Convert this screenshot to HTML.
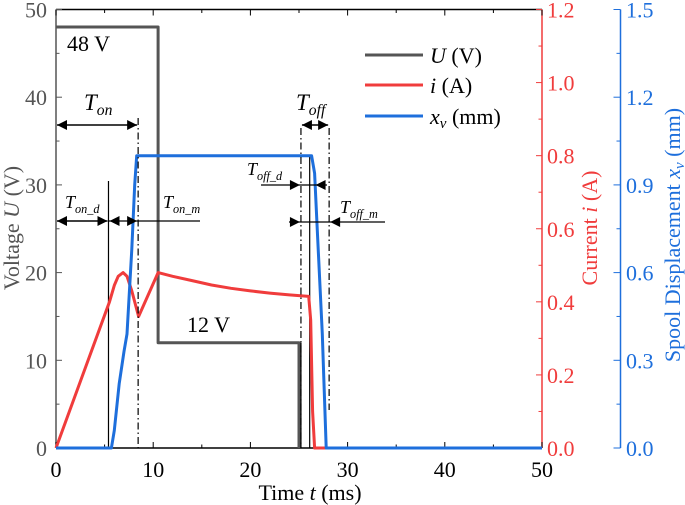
<!DOCTYPE html>
<html><head><meta charset="utf-8"><style>
html,body{margin:0;padding:0;background:#fff;}
svg{display:block;font-family:"Liberation Serif",serif;}
</style></head><body>
<svg id="chart" width="685" height="505" viewBox="0 0 685 505" xmlns="http://www.w3.org/2000/svg"></svg>
<script>
const xTicks=[0,10,20,30,40,50];
const uTicks=[0,10,20,30,40,50];
const iTicks=[0.0,0.2,0.4,0.6,0.8,1.0,1.2];
const xvTicks=[0.0,0.3,0.6,0.9,1.2,1.5];
const uTime=[0,10.5,10.5,25,25];
const uVals=[48,48,12,12,0];
const iTime=[0,5.5,6.0,6.4,6.9,7.3,7.8,8.5,10.5,12,14,16,18,20,22,24,26,26.2,26.4,26.6,50];
const iVals=[0,0.40,0.445,0.47,0.48,0.47,0.43,0.36,0.48,0.47,0.458,0.446,0.437,0.43,0.424,0.419,0.415,0.35,0.1,0,0];
const xvTime=[0,5.7,6.0,6.5,7.0,7.3,7.8,8.1,8.3,26.3,26.6,26.9,27.4,27.8,50];
const xvVals=[0,0,0.06,0.22,0.33,0.39,0.68,0.9,1.0,1.0,0.94,0.73,0.39,0,0];

const L=56,R=542,T=9.5,B=448;
const X=t=>L+(t/50)*(R-L);
const YU=v=>B-(v/50)*(B-T);
const YI=v=>B-(v/1.2)*(B-T);
const YX=v=>B-(v/1.5)*(B-T);
const svg=document.getElementById('chart');
const NS='http://www.w3.org/2000/svg';
function el(tag,attrs,text){const e=document.createElementNS(NS,tag);for(const k in attrs)e.setAttribute(k,attrs[k]);if(text!==undefined)e.innerHTML=text;svg.appendChild(e);return e;}
function line(x1,y1,x2,y2,st,w,dash){return el('line',{x1,y1,x2,y2,stroke:st,'stroke-width':w||1,'stroke-dasharray':dash||'none'});}
const gray='#555',red='#f03c3c',blue='#1e6fdc';

let e=line(L,T,R,T,'#000',1.5);
e=line(L,T,L,B,gray,1.5);
e=line(L,B,R,B,'#000',1.5);
e=line(R,T,R,B,red,1.5);
e=line(620.5,T,620.5,B,blue,1.5);

for(let t=0;t<=50;t+=5){const maj=t%10===0;const x=X(t);line(x,B,x,B-(maj?6:3.5),'#000',1);line(x,T,x,T+(maj?6:3.5),'#000',1);}
xTicks.forEach(t=>{e=el('text',{x:X(t),y:477,'font-size':22,'text-anchor':'middle',fill:'#000'},t);});
for(let v=0;v<=50;v+=5){line(L,YU(v),L+(v%10===0?6:3.5),YU(v),gray,1);}
uTicks.forEach(v=>{e=el('text',{x:47,y:YU(v)+8,'font-size':22,'text-anchor':'end',fill:gray},v);});
for(let k=0;k<=12;k++){const v=k/10;line(R,YI(v),R-(k%2===0?6:3.5),YI(v),red,1);}
iTicks.forEach(v=>{e=el('text',{x:547,y:YI(v)+8,'font-size':22,fill:red},v.toFixed(1));});
for(let k=0;k<=10;k++){const v=k*0.15;line(620.5,YX(v),620.5-(k%2===0?7:4),YX(v),blue,1);}
xvTicks.forEach(v=>{e=el('text',{x:626,y:YX(v)+8,'font-size':22,fill:blue},v.toFixed(1));});

e=el('text',{x:310,y:500,'font-size':22,'text-anchor':'middle',fill:'#000'},'Time <tspan font-style="italic">t</tspan> (ms)');
e=el('text',{x:0,y:0,'font-size':22,'text-anchor':'middle',fill:gray,transform:'translate(19,228) rotate(-90)'},'Voltage <tspan font-style="italic">U</tspan> (V)');
e=el('text',{x:0,y:0,'font-size':22,'text-anchor':'middle',fill:red,transform:'translate(597,228) rotate(-90)'},'Current <tspan font-style="italic">i</tspan> (A)');
e=el('text',{x:0,y:0,'font-size':22,'text-anchor':'middle',fill:blue,transform:'translate(680,235) rotate(-90)'},'Spool Displacement <tspan font-style="italic">x</tspan><tspan font-style="italic" font-size="15" dy="4">v</tspan><tspan dy="-4"> (mm)</tspan>');

function poly(ts,vs,Y,col,name){const p=ts.map((t,i)=>X(t).toFixed(1)+','+Y(vs[i]).toFixed(1)).join(' ');const e=el('polyline',{points:p,fill:'none',stroke:col,'stroke-width':3,'stroke-linejoin':'round'});}
poly(uTime,uVals,YU,gray,'voltage-line');
line(X(25.2),YU(12),X(25.2),B,'#000',1.2);
line(X(26.1),YU(33.3),X(26.1),B,'#000',1.2);
line(X(5.4),181,X(5.4),B,'#000',1.2);
poly(iTime,iVals,YI,red,'current-line');
poly(xvTime,xvVals,YX,blue,'displacement-line');

const dd='7,3,1.5,3';
line(X(8.45),118,X(8.45),B,'#000',1.2,dd);
line(X(25.2),128,X(25.2),B,'#000',1.2,dd);
line(X(28.1),128,X(28.1),410,'#000',1.2,dd);
function arrowHead(x,y,dir){const d=dir>0?-10:10;el('polygon',{points:`${x},${y} ${x+d},${y-5} ${x+d},${y+5}`,fill:'#000'});}
function dbl(x1,x2,y,name){e=line(x1,y,x2,y,'#000',1.5);arrowHead(x1,y,-1);arrowHead(x2,y,1);}
dbl(L+1,X(8.45)-1,125,'ton-arrow');
dbl(X(25.2)+1,X(28.1)-1,125,'toff-arrow');
dbl(L+1,X(5.4)-1,221,'ton-d-arrow');
line(X(5.4),221,200,221,'#000',1.2);
arrowHead(X(5.4)+1,221,-1);arrowHead(X(8.45)-1,221,1);
line(261,185,327,185,'#000',1.2);arrowHead(X(25.2)-1,185,1);arrowHead(X(26.6)+1,185,-1);
line(289,222,385,222,'#000',1.2);arrowHead(X(25.2)-1,222,1);arrowHead(X(28.1)+1,222,-1);

function lab(x,y,main,sub,fs,name){e=el('text',{x,y,'font-size':fs,'font-style':'italic',fill:'#000'},main+`<tspan font-size="${fs*0.68}" dy="5">${sub}</tspan>`);}
lab(84,110,'T','on',23,'ton-label');
lab(296,110,'T','off',23,'toff-label');
lab(65,208,'T','on_d',18,'ton-d-label');
lab(163,208,'T','on_m',18,'ton-m-label');
lab(247,175,'T','off_d',18,'toff-d-label');
lab(340,213,'T','off_m',18,'toff-m-label');
e=el('text',{x:67,y:51,'font-size':22,fill:'#000'},'48 V');
e=el('text',{x:187,y:332,'font-size':22,fill:'#000'},'12 V');

const leg=[[gray,'<tspan font-style="italic">U</tspan> (V)',55,'legend-entry-voltage'],[red,'<tspan font-style="italic">i</tspan> (A)',85,'legend-entry-current'],[blue,'<tspan font-style="italic">x</tspan><tspan font-style="italic" font-size="15" dy="4">v</tspan><tspan dy="-4"> (mm)</tspan>',116,'legend-entry-displacement']];
leg.forEach(l=>{line(365,l[2],423,l[2],l[0],3);e=el('text',{x:430,y:l[2]+8,'font-size':22,fill:'#000'},l[1]);});
</script>
</body></html>
